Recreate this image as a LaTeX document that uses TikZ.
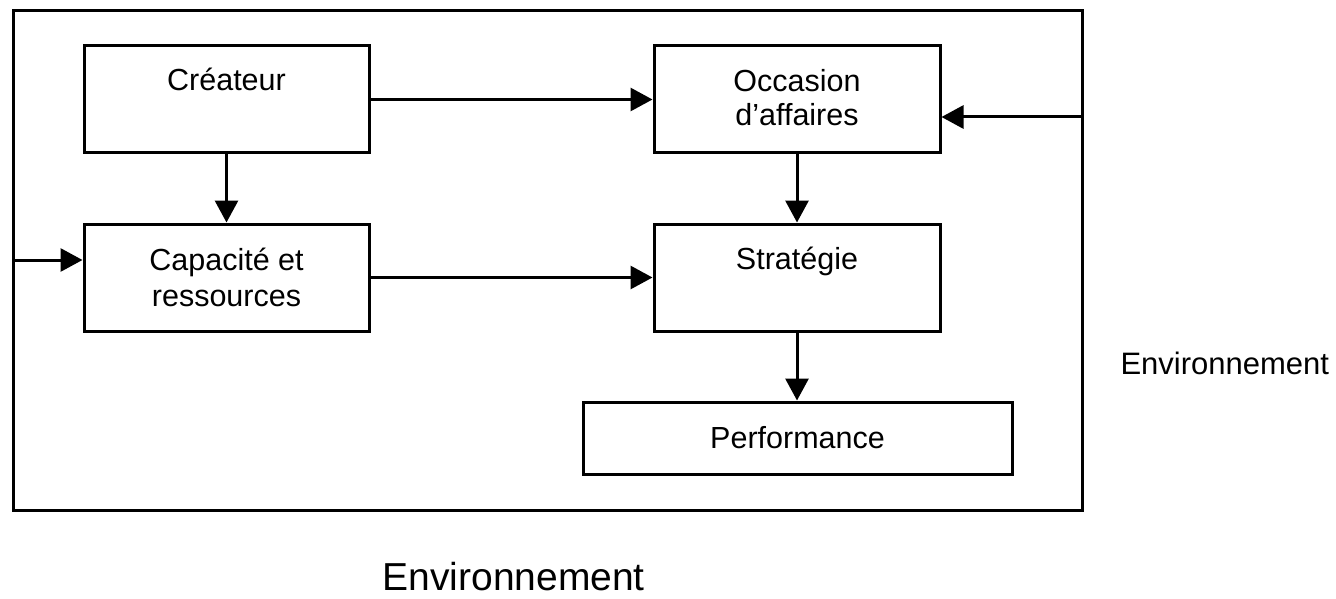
\documentclass[tikz,border=0pt]{standalone}
\usepackage{fontspec}
\setmainfont{Liberation Sans}
\usetikzlibrary{arrows.meta}
\begin{document}
\begin{tikzpicture}[x=1pt,y=-1pt,
  line width=3pt,
  boxstyle/.style={draw,rectangle,inner sep=0pt,minimum height=107pt},
  txt/.style={anchor=base,inner sep=0pt,font=\fontsize{30.5}{35}\selectfont},
  flow/.style={-{Triangle[length=22pt,width=23pt]}}]
  \useasboundingbox (0,0) rectangle (1336,599);

  % outer frame (the environment)
  \node[draw,rectangle,inner sep=0pt,minimum width=1069pt,minimum height=499pt] (env) at (547.5,260.5) {};

  % boxes
  \node[boxstyle,minimum width=285pt] (crea)  at (226.5,99.5)  {};
  \node[boxstyle,minimum width=285pt] (capa)  at (226.5,277.5) {};
  \node[boxstyle,minimum width=286pt] (occ)   at (797,99.5)    {};
  \node[boxstyle,minimum width=286pt] (strat) at (797,277.5)   {};
  \node[draw,rectangle,inner sep=0pt,minimum width=429pt,minimum height=72pt] (perf) at (797.5,438) {};

  % box texts
  \node[txt] (tcrea)  at (226.5,91)  {Créateur};
  \node[txt] (tocc1)  at (797,92)    {Occasion};
  \node[txt] (tocc2)  at (797,126)   {d’affaires};
  \node[txt] (tcapa1) at (226.5,270) {Capacité et};
  \node[txt] (tcapa2) at (226.5,306) {ressources};
  \node[txt] (tstrat) at (797,269)   {Stratégie};
  \node[txt] (tperf)  at (797.5,448) {Performance};

  % environment labels
  \node[anchor=base west,inner sep=0pt,font=\fontsize{31}{36}\selectfont] (envr) at (1119,374) {Environnement};
  \node[anchor=base west,inner sep=0pt,font=\fontsize{39}{45}\selectfont] (envb) at (381,590) {Environnement};

  % entry points on the frame
  \coordinate (inL) at (13,260);
  \coordinate (inR) at (1082,117);

  % connectors
  \draw[flow] (crea.south) -- (capa.north);
  \draw[flow] (crea.east) -- (occ.west);
  \draw[flow] (capa.east) -- (strat.west);
  \draw[flow] (occ.south) -- (strat.north);
  \draw[flow] (strat.south) -- (strat.south |- perf.north);
  \draw[flow] (inL) -- (inL -| capa.west);
  \draw[flow] (inR) -- (inR -| occ.east);
\end{tikzpicture}
\end{document}
